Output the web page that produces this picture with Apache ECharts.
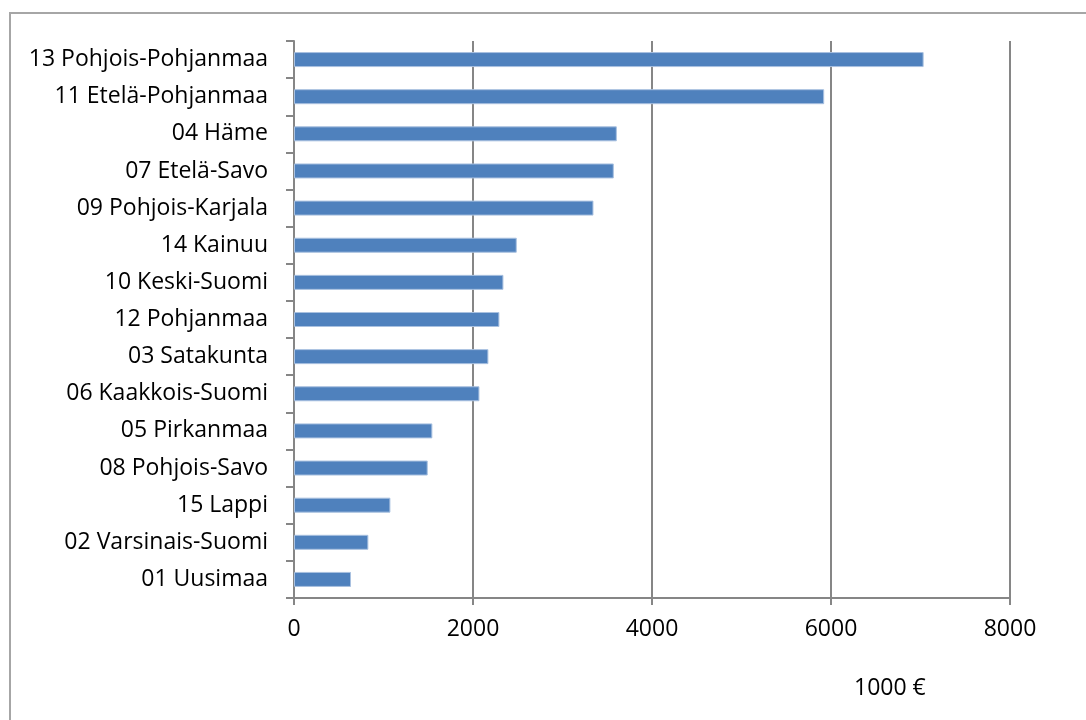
<!DOCTYPE html>
<html>
<head>
<meta charset="utf-8">
<script src="https://cdn.jsdelivr.net/npm/echarts@6/dist/echarts.min.js"></script>
<style>
    html, body { margin: 0; padding: 0; background: #fff; }
    #frame { position: absolute; left: 9px; top: 12px; width: 1100px; height: 740px; border: 2px solid #a6a6a6; }
    #chart { position: absolute; left: 0; top: 0; width: 1086px; height: 720px; }
</style>
</head>
<body>
<div id="frame"></div>
<div id="chart"></div>
<script>
// maakunnat ylhäältä alas
const regions = [
    '13 Pohjois-Pohjanmaa', '11 Etelä-Pohjanmaa', '04 Häme', '07 Etelä-Savo',
    '09 Pohjois-Karjala', '14 Kainuu', '10 Keski-Suomi', '12 Pohjanmaa',
    '03 Satakunta', '06 Kaakkois-Suomi', '05 Pirkanmaa', '08 Pohjois-Savo',
    '15 Lappi', '02 Varsinais-Suomi', '01 Uusimaa'
];
// arvot, 1000 €
const values = [7035, 5924, 3607, 3573, 3346, 2489, 2340, 2295, 2172, 2072, 1546, 1494, 1077, 831, 637];
const xTicks = [0, 2000, 4000, 6000, 8000];
const unitLabel = '1000 €';

const myChart = echarts.init(document.getElementById('chart'));
const font = '"Open Sans", Lato, sans-serif';
const grey = '#868686';

let option = {
    animation: false,
    grid: { left: 294, right: 76, top: 41, bottom: 122 },
    xAxis: {
        type: 'value',
        min: xTicks[0],
        max: xTicks[xTicks.length - 1],
        interval: xTicks[1] - xTicks[0],
        axisLine: { show: true, lineStyle: { color: grey, width: 2 } },
        axisTick: { show: true, length: 7, lineStyle: { color: grey, width: 2 } },
        splitLine: { show: true, lineStyle: { color: grey, width: 2 } },
        axisLabel: { color: '#000', fontFamily: font, fontSize: 23, margin: 20, formatter: v => String(v) }
    },
    yAxis: {
        type: 'category',
        inverse: true,
        data: regions,
        axisLine: { show: true, lineStyle: { color: grey, width: 2 } },
        axisTick: { show: true, length: 8, lineStyle: { color: grey, width: 2 } },
        axisLabel: { color: '#000', fontFamily: font, fontSize: 23, margin: 26 }
    },
    series: [{
        type: 'bar',
        data: values,
        barWidth: 15,
        itemStyle: { color: '#4f81bd', borderColor: '#a9c1e0', borderWidth: 1 }
    }],
    graphic: [{
        type: 'text',
        left: 854,
        top: 677,
        style: { text: unitLabel, fontFamily: font, fontSize: 23, fill: '#000' }
    }]
};
myChart.setOption(option);
</script>
</body>
</html>
